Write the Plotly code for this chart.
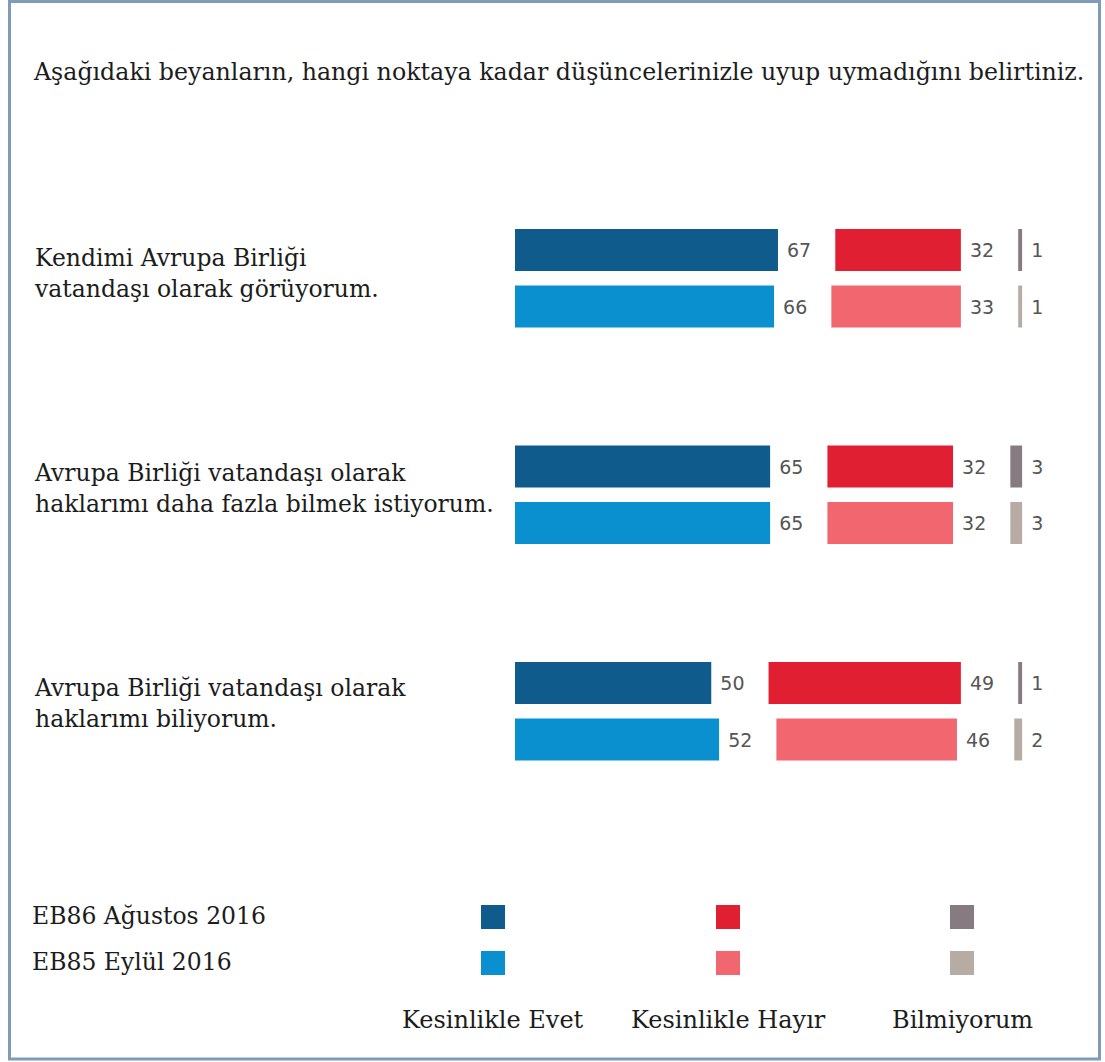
import plotly.graph_objects as go

# ---------------- data ----------------
statements = [
    "Kendimi Avrupa Birliği<br>vatandaşı olarak görüyorum.",
    "Avrupa Birliği vatandaşı olarak<br>haklarımı daha fazla bilmek istiyorum.",
    "Avrupa Birliği vatandaşı olarak<br>haklarımı biliyorum.",
]
waves = ["EB86 Ağustos 2016", "EB85 Eylül 2016"]
answers = ["Kesinlikle Evet", "Kesinlikle Hayır", "Bilmiyorum"]

evet_eb86 = [67, 65, 50]
evet_eb85 = [66, 65, 52]
hayir_eb86 = [32, 32, 49]
hayir_eb85 = [33, 32, 46]
bilm_eb86 = [1, 3, 1]
bilm_eb85 = [1, 3, 2]

title_text = "Aşağıdaki beyanların, hangi noktaya kadar düşüncelerinizle uyup uymadığını belirtiniz."

# ---------------- styling / layout ----------------
W, H = 1105, 1062
colors = {
    ("Kesinlikle Evet", 0): "#0f5b8c",
    ("Kesinlikle Evet", 1): "#0a8fcf",
    ("Kesinlikle Hayır", 0): "#e11f32",
    ("Kesinlikle Hayır", 1): "#f1666f",
    ("Bilmiyorum", 0): "#857b80",
    ("Bilmiyorum", 1): "#b6aca4",
}
SERIF = "DejaVu Serif"
SANS = "DejaVu Sans"
TXT = "#1c1c1c"
GAP = 14.6          # gap between answer segments, in percentage units
PX_PER_UNIT = 3.925
X0_PX = 515
Y0 = 250            # y axis is in pixel units (top -> bottom)
GROUP_STEP = 216.5
ROW_STEP = 56.5
BAR_H = 42

data = {
    "Kesinlikle Evet": [evet_eb86, evet_eb85],
    "Kesinlikle Hayır": [hayir_eb86, hayir_eb85],
    "Bilmiyorum": [bilm_eb86, bilm_eb85],
}

fig = go.Figure()
for w in range(len(waves)):
    ys = [Y0 + g * GROUP_STEP + w * ROW_STEP for g in range(len(statements))]
    base = [0.0] * len(statements)
    for a in answers:
        vals = data[a][w]
        fig.add_trace(go.Bar(
            orientation="h",
            y=ys,
            x=vals,
            base=base,
            width=BAR_H,
            marker=dict(color=colors[(a, w)], line=dict(width=0)),
            text=[" " + str(v) for v in vals],
            textposition="outside",
            textfont=dict(family=SANS, size=19, color="#555555"),
            constraintext="none",
            cliponaxis=False,
            showlegend=False,
            name=f"{a} – {waves[w]}",
            hoverinfo="skip",
        ))
        base = [b + v + GAP for b, v in zip(base, vals)]

def px(xpix):
    return xpix / W

def py(ypix):
    return 1 - ypix / H

annotations = []
# title
annotations.append(dict(text=title_text, x=px(31), y=py(72), xref="paper", yref="paper",
                        xanchor="left", yanchor="middle", showarrow=False,
                        font=dict(family=SERIF, size=23.7, color=TXT)))
# statement labels
label_y = [Y0 + g * GROUP_STEP + ROW_STEP / 2 - 5 - 1.5 * g for g in range(len(statements))]
for s, yy in zip(statements, label_y):
    annotations.append(dict(text=s, x=px(32), y=yy, xref="paper", yref="y",
                            xanchor="left", yanchor="middle", align="left", showarrow=False,
                            font=dict(family=SERIF, size=23.5, color=TXT)))

# legend
leg_row_y = [917, 963]
leg_col_x = [493, 728, 962]
for w, yy in enumerate(leg_row_y):
    annotations.append(dict(text=waves[w], x=px(30), y=py(yy - 1), xref="paper", yref="paper",
                            xanchor="left", yanchor="middle", showarrow=False,
                            font=dict(family=SERIF, size=23.5, color=TXT)))
for a, xx in zip(answers, leg_col_x):
    annotations.append(dict(text=a, x=px(xx), y=py(1020), xref="paper", yref="paper",
                            xanchor="center", yanchor="middle", showarrow=False,
                            font=dict(family=SERIF, size=24, color=TXT)))

shapes = []
for w, yy in enumerate(leg_row_y):
    for a, xx in zip(answers, leg_col_x):
        shapes.append(dict(type="rect", xref="paper", yref="paper",
                           x0=px(xx - 12), x1=px(xx + 12), y0=py(yy - 12), y1=py(yy + 12),
                           fillcolor=colors[(a, w)], line=dict(width=0)))
# frame
shapes.append(dict(type="rect", xref="paper", yref="paper",
                   x0=px(9.5), x1=px(1099.5), y0=py(1.5), y1=py(1059),
                   line=dict(color="#7f9bb8", width=3), fillcolor="rgba(0,0,0,0)"))

fig.update_layout(
    width=W, height=H,
    margin=dict(l=0, r=0, t=0, b=0),
    paper_bgcolor="white", plot_bgcolor="white",
    barmode="overlay",
    xaxis=dict(domain=[px(X0_PX), 1], range=[0, (W - X0_PX) / PX_PER_UNIT],
               visible=False, fixedrange=True),
    yaxis=dict(domain=[0, 1], range=[H, 0], visible=False, fixedrange=True),
    annotations=annotations,
    shapes=shapes,
)

fig.write_html("out.html",
               config={"displayModeBar": False, "staticPlot": True},
               post_script="document.body.style.margin='0';document.body.style.overflow='hidden';")
